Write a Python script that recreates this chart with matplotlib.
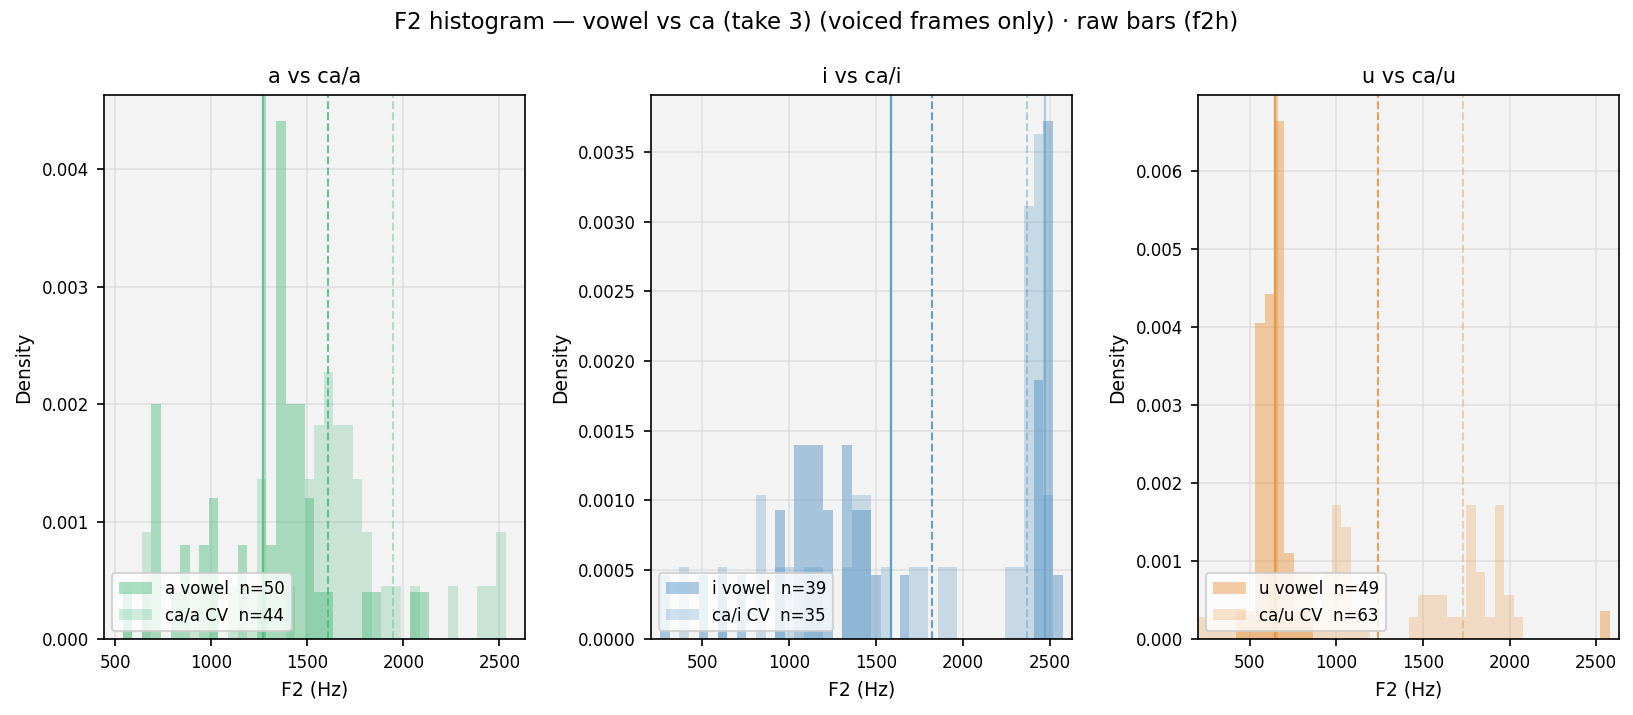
import numpy as np
import matplotlib
matplotlib.use("Agg")
import matplotlib.pyplot as plt

# Histogram counts per bin (44 equal bins spanning each panel's x range)
NBINS = 44

a_range = (439.5, 2633.0)
a_vowel_counts = {2: 1, 4: 1, 5: 5, 7: 1, 8: 2, 10: 2, 11: 3, 14: 2, 16: 1, 17: 2, 18: 11,
                  19: 5, 20: 5, 21: 3, 22: 1, 23: 1, 27: 1, 28: 1, 32: 1, 33: 1}
a_cv_counts = {2: 1, 4: 2, 9: 1, 11: 1, 13: 1, 15: 1, 16: 3, 19: 1, 21: 3, 22: 4, 23: 5,
               24: 4, 25: 4, 26: 3, 27: 2, 29: 1, 30: 1, 32: 1, 36: 1, 39: 1, 40: 1, 41: 2}
a_n = (50, 44)
a_lines = (1270, 1278, 1609, 1944)  # vowel solid, vowel solid light, cv dashed, cv dashed light

i_range = (203.0, 2627.0)
i_vowel_counts = {1: 1, 5: 1, 7: 1, 9: 1, 13: 2, 15: 3, 16: 3, 17: 3, 18: 2, 20: 3, 21: 2,
                  22: 2, 23: 1, 26: 1, 40: 4, 41: 8, 42: 1}
i_cv_counts = {3: 1, 7: 1, 11: 2, 13: 1, 14: 1, 16: 1, 17: 1, 20: 1, 21: 2, 22: 2, 24: 1,
               27: 1, 28: 1, 30: 1, 31: 1, 37: 1, 38: 1, 39: 6, 40: 7, 41: 2}
i_n = (39, 35)
i_lines = (1587, 2468, 1822, 2366)

u_range = (199.0, 2634.0)
u_vowel_counts = {4: 1, 5: 1, 6: 11, 7: 12, 8: 18, 9: 3, 10: 1, 11: 1, 42: 1}
u_cv_counts = {0: 1, 1: 1, 2: 1, 3: 1, 4: 1, 5: 1, 6: 1, 7: 3, 8: 1, 9: 1, 10: 3, 11: 3,
               12: 1, 13: 3, 14: 6, 15: 5, 16: 1, 17: 1, 22: 1, 23: 2, 24: 2, 25: 2, 26: 1,
               27: 1, 28: 6, 29: 3, 30: 1, 31: 6, 32: 2, 33: 1}
u_n = (49, 63)
u_lines = (646, 659, 1240, 1729)

panels = [
    ("a", "#4cbb7d", a_range, a_vowel_counts, a_cv_counts, a_n, a_lines),
    ("i", "#4a8fc2", i_range, i_vowel_counts, i_cv_counts, i_n, i_lines),
    ("u", "#e8933a", u_range, u_vowel_counts, u_cv_counts, u_n, u_lines),
]

plt.rcParams["font.family"] = "DejaVu Sans"

fig, axes = plt.subplots(1, 3, figsize=(1633 / 150, 715 / 150), dpi=150)
fig.subplots_adjust(left=0.0634, right=0.9916, top=0.8671, bottom=0.1056, wspace=0.298)

for ax, (v, col, rng, vc, cc, ns, lines) in zip(axes, panels):
    edges = np.linspace(rng[0], rng[1], NBINS + 1)
    width = edges[1] - edges[0]
    left = edges[:-1]

    def dens(counts, n):
        arr = np.zeros(NBINS)
        for k, c in counts.items():
            arr[k] = c
        return arr / (n * width)

    ax.set_facecolor("#f3f3f3")
    ax.grid(True, color="#d9d9d9", alpha=0.7, linewidth=0.8)
    ax.set_axisbelow(True)

    ax.hist(left, bins=edges, weights=dens(vc, ns[0]), color=col, alpha=0.45,
            label=f"{v} vowel  n={ns[0]}")
    ax.hist(left, bins=edges, weights=dens(cc, ns[1]), color=col, alpha=0.25,
            label=f"ca/{v} CV  n={ns[1]}")

    ax.axvline(lines[0], color=col, alpha=0.85, linewidth=1.1)
    ax.axvline(lines[1], color=col, alpha=0.4, linewidth=1.1)
    ax.axvline(lines[2], color=col, alpha=0.85, linewidth=1.0, linestyle="--")
    ax.axvline(lines[3], color=col, alpha=0.4, linewidth=1.0, linestyle="--")

    ax.set_xlim(rng)
    ax.set_title(f"{v} vs ca/{v}", fontsize=10)
    ax.set_xlabel("F2 (Hz)", fontsize=9)
    ax.set_ylabel("Density", fontsize=9)
    ax.tick_params(labelsize=8)
    ax.legend(loc="lower left", fontsize=8)

fig.suptitle("F2 histogram — vowel vs ca (take 3) (voiced frames only) · raw bars (f2h)",
             fontsize=11, y=0.984)

fig.savefig("out.png", dpi=150)
